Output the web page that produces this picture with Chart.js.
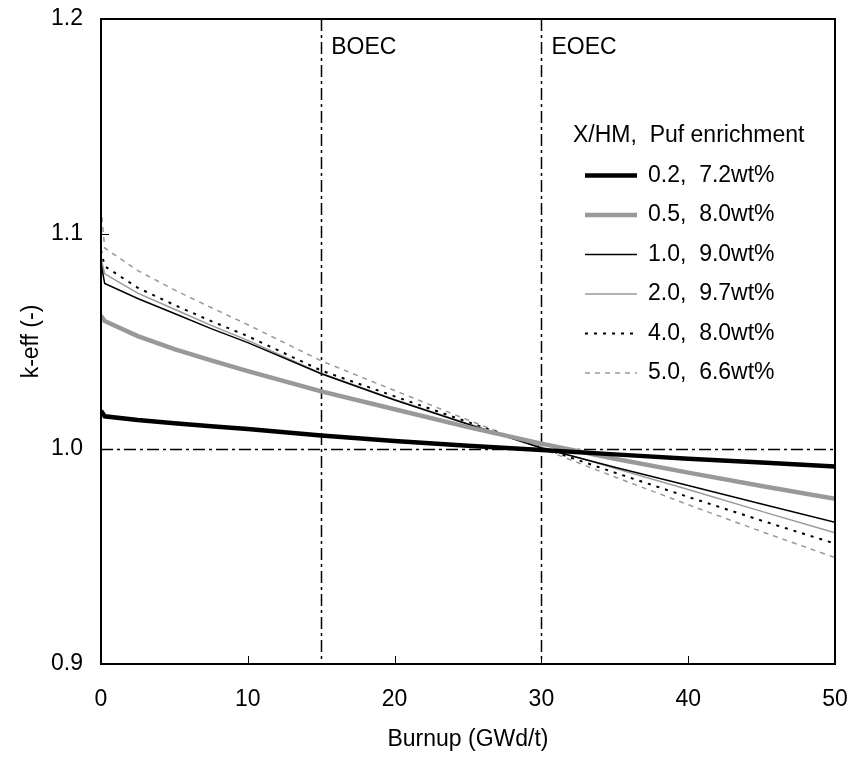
<!DOCTYPE html>
<html>
<head>
<meta charset="utf-8">
<script src="https://cdn.jsdelivr.net/npm/chart.js@4.4.1/dist/chart.umd.min.js"></script>
<style>
  html, body { margin: 0; padding: 0; background: #fff; }
  #wrap { width: 851px; height: 758px; }
</style>
</head>
<body>
<div id="wrap"><canvas id="keffChart" width="851" height="758"></canvas></div>
<script>
// --- DATA ---
const burnup = [0, 0.25, 2.5, 5, 7.5, 10, 15, 20, 25, 30, 35, 40, 45, 50];
const keffXhm02 = [1.0178, 1.0152, 1.0135, 1.0120, 1.0106, 1.0093, 1.0063, 1.0037, 1.0015, 0.9995, 0.9975, 0.9955, 0.9937, 0.9919];
const keffXhm05 = [1.0620, 1.0595, 1.0525, 1.0465, 1.0412, 1.0362, 1.0268, 1.0185, 1.0102, 1.0025, 0.9955, 0.9890, 0.9828, 0.9769];
const keffXhm10 = [1.0865, 1.0770, 1.0700, 1.0630, 1.0560, 1.0495, 1.0350, 1.0228, 1.0115, 1.0005, 0.9915, 0.9830, 0.9744, 0.9659];
const keffXhm20 = [1.0885, 1.0815, 1.0725, 1.0650, 1.0575, 1.0505, 1.0352, 1.0230, 1.0118, 1.0010, 0.9910, 0.9812, 0.9710, 0.9610];
const keffXhm40 = [1.0925, 1.0850, 1.0750, 1.0670, 1.0595, 1.0525, 1.0365, 1.0245, 1.0125, 1.0007, 0.9890, 0.9777, 0.9667, 0.9560];
const keffXhm50 = [1.1125, 1.0935, 1.0830, 1.0740, 1.0658, 1.0578, 1.0410, 1.0272, 1.0135, 1.0002, 0.9870, 0.9741, 0.9616, 0.9495];

const seriesLabels = ['0.2,  7.2wt%', '0.5,  8.0wt%', '1.0,  9.0wt%', '2.0,  9.7wt%', '4.0,  8.0wt%', '5.0,  6.6wt%'];
const legendTitle = 'X/HM,  Puf enrichment';
const xTicks = [0, 10, 20, 30, 40, 50];
const yTicks = [0.9, 1.0, 1.1, 1.2];
const cycleBurnups = [15, 30];
const cycleNames = ['BOEC', 'EOEC'];
const criticalKeff = 1.0;

const FONT = "'Liberation Sans', Arial, sans-serif";
const FONT_SIZE = 23;
const GREY = '#999999';

function toPoints(ys) {
    return burnup.map((b, i) => ({ x: b, y: ys[i] }));
}

const seriesStyles = [
    { color: '#000', width: 4.5, dash: [] },
    { color: GREY, width: 4.5, dash: [] },
    { color: '#000', width: 1.5, dash: [] },
    { color: GREY, width: 1.5, dash: [] },
    { color: '#000', width: 2, dash: [3, 6] },
    { color: GREY, width: 1.5, dash: [5, 5] }
];
const seriesValues = [keffXhm02, keffXhm05, keffXhm10, keffXhm20, keffXhm40, keffXhm50];

const datasets = seriesValues.map((vals, i) => ({
    label: seriesLabels[i],
    data: toPoints(vals),
    borderColor: seriesStyles[i].color,
    borderWidth: seriesStyles[i].width,
    borderDash: seriesStyles[i].dash,
    pointRadius: 0,
    fill: false,
    tension: 0
}));

// --- PLUGIN: frame, dash-dot reference lines, inward ticks, legend ---
const decorPlugin = {
    id: 'decor',
    beforeDatasetsDraw(chart) {
        const { ctx, chartArea: a, scales: { x, y } } = chart;
        ctx.save();
        ctx.strokeStyle = '#000';
        ctx.lineWidth = 1.5;
        ctx.setLineDash([12, 4, 3, 4]);
        cycleBurnups.forEach(b => {
            const px = Math.round(x.getPixelForValue(b)) + 0.5;
            ctx.beginPath();
            ctx.moveTo(px, a.top);
            ctx.lineTo(px, a.bottom);
            ctx.stroke();
        });
        const py = Math.round(y.getPixelForValue(criticalKeff)) + 0.5;
        ctx.beginPath();
        ctx.moveTo(a.left, py);
        ctx.lineTo(a.right, py);
        ctx.stroke();
        ctx.setLineDash([]);

        ctx.fillStyle = '#000';
        ctx.font = FONT_SIZE + 'px ' + FONT;
        ctx.textAlign = 'left';
        ctx.textBaseline = 'middle';
        cycleBurnups.forEach((b, i) => {
            ctx.fillText(cycleNames[i], x.getPixelForValue(b) + 10, a.top + 29);
        });
        ctx.restore();
    },
    afterDraw(chart) {
        const { ctx, chartArea: a, scales: { x, y } } = chart;
        ctx.save();
        ctx.strokeStyle = '#000';
        ctx.lineWidth = 2;
        ctx.strokeRect(a.left, a.top, a.right - a.left, a.bottom - a.top);

        // ticks point inward
        ctx.lineWidth = 1;
        xTicks.slice(1, -1).forEach(t => {
            const px = Math.round(x.getPixelForValue(t)) + 0.5;
            ctx.beginPath();
            ctx.moveTo(px, a.bottom);
            ctx.lineTo(px, a.bottom - 8);
            ctx.stroke();
        });
        yTicks.slice(1, -1).forEach(t => {
            const py = Math.round(y.getPixelForValue(t)) + 0.5;
            ctx.beginPath();
            ctx.moveTo(a.left, py);
            ctx.lineTo(a.left + 8, py);
            ctx.stroke();
        });

        // legend
        const lx = a.left + 484;
        let ly = a.top + 117;
        ctx.fillStyle = '#000';
        ctx.font = FONT_SIZE + 'px ' + FONT;
        ctx.textAlign = 'left';
        ctx.textBaseline = 'middle';
        ctx.fillText(legendTitle, lx - 12, ly);
        chart.data.datasets.forEach((ds, i) => {
            ly += 39.5;
            ctx.strokeStyle = ds.borderColor;
            ctx.lineWidth = ds.borderWidth;
            ctx.setLineDash(ds.borderDash || []);
            ctx.beginPath();
            ctx.moveTo(lx, ly);
            ctx.lineTo(lx + 52, ly);
            ctx.stroke();
            ctx.setLineDash([]);
            ctx.fillText(ds.label, lx + 63, ly);
        });
        ctx.restore();
    }
};

// --- CHART ---
const ctx = document.getElementById('keffChart').getContext('2d');
new Chart(ctx, {
    type: 'line',
    data: { datasets },
    options: {
        responsive: false,
        animation: false,
        devicePixelRatio: 1,
        layout: { padding: { top: 19, right: 16, left: 0, bottom: 0 } },
        plugins: {
            legend: { display: false },
            tooltip: { enabled: false }
        },
        scales: {
            x: {
                type: 'linear',
                min: 0,
                max: 50,
                afterBuildTicks: s => { s.ticks = xTicks.map(v => ({ value: v })); },
                afterFit: s => { s.height = 94; s.paddingLeft = 0; s.paddingRight = 0; },
                grid: { display: false, drawTicks: false },
                border: { display: false },
                ticks: {
                    color: '#000',
                    font: { family: FONT, size: FONT_SIZE },
                    padding: 22,
                    maxRotation: 0,
                    callback: v => String(v)
                },
                title: {
                    display: true,
                    text: 'Burnup (GWd/t)',
                    color: '#000',
                    font: { family: FONT, size: FONT_SIZE },
                    padding: { top: 0, bottom: 5 }
                }
            },
            y: {
                type: 'linear',
                min: 0.9,
                max: 1.2,
                afterBuildTicks: s => { s.ticks = yTicks.map(v => ({ value: v })); },
                afterFit: s => { s.width = 101; s.paddingTop = 0; s.paddingBottom = 0; },
                grid: { display: false, drawTicks: false },
                border: { display: false },
                ticks: {
                    color: '#000',
                    font: { family: FONT, size: FONT_SIZE },
                    padding: 18,
                    callback: v => Number(v).toFixed(1)
                },
                title: {
                    display: true,
                    text: 'k-eff (-)',
                    color: '#000',
                    font: { family: FONT, size: FONT_SIZE },
                    padding: { top: 18, bottom: 0 }
                }
            }
        }
    },
    plugins: [decorPlugin]
});
</script>
</body>
</html>
